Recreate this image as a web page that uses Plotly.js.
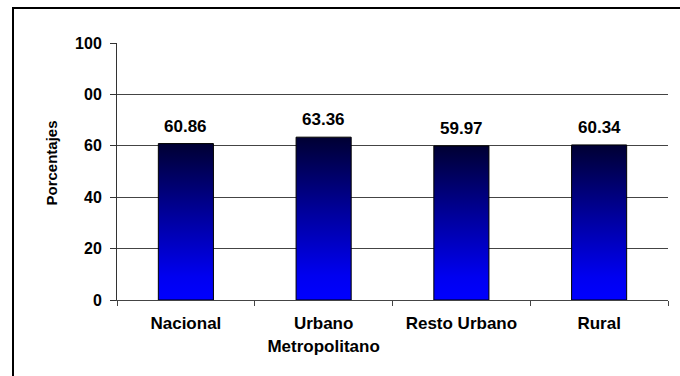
<!DOCTYPE html>
<html>
<head>
<meta charset="utf-8">
<script src="https://cdn.plot.ly/plotly-3.0.1.min.js"></script>
<style>
  html, body { margin: 0; padding: 0; background: #fff; }
  #wrap { position: relative; width: 680px; height: 376px; overflow: hidden; }
  #chart { position: absolute; left: 0; top: 0; width: 680px; height: 376px; }
  #frame { position: absolute; left: 12px; top: 7px; width: 700px; height: 400px;
           border-top: 2px solid #000; border-left: 2px solid #000; pointer-events: none; }
</style>
</head>
<body>
<div id="wrap">
  <div id="chart"></div>
  <div id="frame"></div>
</div>
<script>
const categories = ["Nacional", "Urbano<br>Metropolitano", "Resto Urbano", "Rural"];
const values = [60.86, 63.36, 59.97, 60.34];
const valueLabels = ["60.86", "63.36", "59.97", "60.34"];
const yTickVals = [0, 20, 40, 60, 80, 100];
const yTickText = ["0", "20", "40", "60", "00", "100"];
const yTitle = "Porcentajes";

const FONT = '"Liberation Sans", Arial, sans-serif';

const trace = {
  type: 'bar',
  x: categories,
  y: values,
  marker: { color: '#0000ff', line: { color: '#000', width: 1 } },
  hoverinfo: 'none'
};

const annotations = categories.map((c, i) => ({
  x: c, y: values[i], xref: 'x', yref: 'y',
  text: valueLabels[i], showarrow: false,
  yanchor: 'bottom', yshift: 6,
  font: { family: FONT, size: 17, color: '#000', weight: 'bold' }
}));
annotations.push({
  xref: 'paper', yref: 'paper', x: 0, y: 0.531, xshift: -65,
  xanchor: 'center', yanchor: 'middle', textangle: -90,
  text: yTitle, showarrow: false,
  font: { family: FONT, size: 15, color: '#000', weight: 'bold' }
});

const layout = {
  width: 680, height: 376,
  margin: { l: 117, r: 12, t: 43, b: 76, pad: 0 },
  paper_bgcolor: '#fff', plot_bgcolor: '#fff',
  showlegend: false,
  bargap: 0.6,
  font: { family: FONT, size: 16, color: '#000', weight: 'bold' },
  xaxis: {
    type: 'category',
    showline: true, linecolor: '#444', linewidth: 1,
    ticks: 'outside', ticklen: 5, tickcolor: '#444', tickson: 'boundaries',
    ticklabelstandoff: 8,
    showgrid: false, zeroline: false,
    tickfont: { family: FONT, size: 17, color: '#000', weight: 'bold' },
    fixedrange: true
  },
  yaxis: {
    range: [0, 100], tickvals: yTickVals, ticktext: yTickText,
    showline: true, linecolor: '#333', linewidth: 1,
    ticks: 'outside', ticklen: 6, tickcolor: '#333',
    ticklabelstandoff: 5,
    showgrid: true, gridcolor: '#444', gridwidth: 1,
    zeroline: false,
    tickfont: { family: FONT, size: 16, color: '#000', weight: 'bold' },
    fixedrange: true
  },
  annotations: annotations
};

function applyGradient() {
  const gd = document.getElementById('chart');
  const svg = gd.querySelector('svg.main-svg');
  if (!svg) return;
  let defs = svg.querySelector('defs');
  if (!defs) {
    defs = document.createElementNS('http://www.w3.org/2000/svg', 'defs');
    svg.insertBefore(defs, svg.firstChild);
  }
  if (!svg.querySelector('#barGrad')) {
    const ns = 'http://www.w3.org/2000/svg';
    const lg = document.createElementNS(ns, 'linearGradient');
    lg.setAttribute('id', 'barGrad');
    lg.setAttribute('x1', '0'); lg.setAttribute('y1', '0');
    lg.setAttribute('x2', '0'); lg.setAttribute('y2', '1');
    [['0', '#000033'], ['0.45', '#00009a'], ['0.85', '#0000f0'], ['1', '#0000ff']].forEach(([o, c]) => {
      const s = document.createElementNS(ns, 'stop');
      s.setAttribute('offset', o); s.setAttribute('stop-color', c);
      lg.appendChild(s);
    });
    defs.appendChild(lg);
  }
  gd.querySelectorAll('.barlayer .point path').forEach(p => {
    p.style.fill = 'url(#barGrad)';
  });
}

Plotly.newPlot('chart', [trace], layout, { staticPlot: true, displayModeBar: false })
  .then(applyGradient);
</script>
</body>
</html>
